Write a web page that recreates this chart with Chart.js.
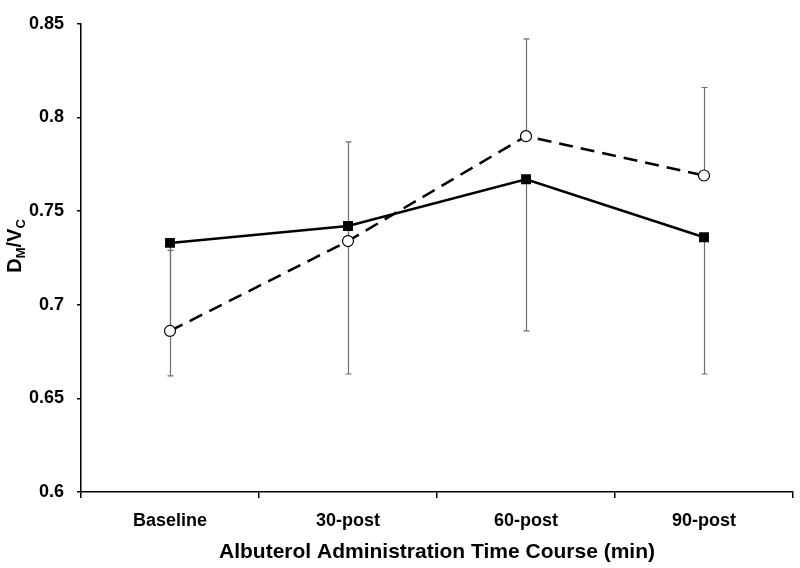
<!DOCTYPE html>
<html>
<head>
<meta charset="utf-8">
<script src="https://cdn.jsdelivr.net/npm/chart.js@4"></script>
<style>
  html, body { margin: 0; padding: 0; background: #fff; }
  #wrap { width: 800px; height: 568px; position: relative; }
</style>
</head>
<body>
<div id="wrap"><canvas id="c" width="800" height="568"></canvas></div>
<script>
const categories = ['Baseline', '30-post', '60-post', '90-post'];
const squareValues = [0.733, 0.742, 0.767, 0.736];
const circleValues = [0.686, 0.734, 0.790, 0.769];
const squareLowerErr = [0.662, 0.663, 0.686, 0.663];
const circleUpperErr = [0.729, 0.787, 0.842, 0.816];
const yTicks = [0.6, 0.65, 0.7, 0.75, 0.8, 0.85];
const xTitle = 'Albuterol Administration Time Course (min)';

const FONT = '"Liberation Sans", Arial, sans-serif';

const errorBars = {
  id: 'errorBars',
  beforeDatasetsDraw(chart) {
    const ctx = chart.ctx;
    const x = chart.scales.x, y = chart.scales.y;
    ctx.save();
    ctx.strokeStyle = '#6e6e6e';
    ctx.lineWidth = 1.2;
    const cap = 3;
    const draw = (vals, ends) => {
      vals.forEach((v, i) => {
        const px = Math.round(x.getPixelForValue(i)) + 0.5;
        const y0 = y.getPixelForValue(v);
        const y1 = y.getPixelForValue(ends[i]);
        ctx.beginPath();
        ctx.moveTo(px, y0);
        ctx.lineTo(px, y1);
        ctx.moveTo(px - cap, y1);
        ctx.lineTo(px + cap, y1);
        ctx.stroke();
      });
    };
    draw(squareValues, squareLowerErr);
    draw(circleValues, circleUpperErr);
    ctx.restore();
  }
};

const titles = {
  id: 'titles',
  afterDraw(chart) {
    const ctx = chart.ctx;
    const ca = chart.chartArea;
    ctx.save();
    ctx.fillStyle = '#000';
    // X title
    ctx.font = 'bold 21px ' + FONT;
    ctx.textAlign = 'center';
    ctx.textBaseline = 'alphabetic';
    ctx.fillText(xTitle, (ca.left + ca.right) / 2, 558);
    // Y title with subscripts
    const big = 'bold 20px ' + FONT, small = 'bold 13px ' + FONT;
    const parts = [['D', big, 0], ['M', small, 4], ['/V', big, 0], ['C', small, 4]];
    let total = 0;
    parts.forEach(p => { ctx.font = p[1]; total += ctx.measureText(p[0]).width; });
    ctx.translate(21, 246);
    ctx.rotate(-Math.PI / 2);
    ctx.textAlign = 'left';
    let cx = -total / 2;
    parts.forEach(p => {
      ctx.font = p[1];
      ctx.fillText(p[0], cx, p[2]);
      cx += ctx.measureText(p[0]).width;
    });
    ctx.restore();
  }
};

new Chart(document.getElementById('c'), {
  type: 'line',
  data: {
    labels: categories,
    datasets: [
      {
        label: 'Series A',
        data: squareValues,
        borderColor: '#000',
        backgroundColor: '#000',
        borderWidth: 2.5,
        pointStyle: 'rect',
        pointRadius: 7,
        pointBorderWidth: 0,
        pointBackgroundColor: '#000',
        tension: 0,
        fill: false
      },
      {
        label: 'Series B',
        data: circleValues,
        borderColor: '#000',
        borderWidth: 2.5,
        borderDash: [14, 8],
        pointStyle: 'circle',
        pointRadius: 5.5,
        pointBorderWidth: 1.2,
        pointBorderColor: '#000',
        pointBackgroundColor: '#fff',
        tension: 0,
        fill: false
      }
    ]
  },
  options: {
    responsive: false,
    animation: false,
    devicePixelRatio: 1,
    layout: { padding: { left: 0, top: 12, right: 7, bottom: 0 } },
    plugins: {
      legend: { display: false },
      tooltip: { enabled: false },
      title: { display: false }
    },
    scales: {
      x: {
        type: 'category',
        offset: true,
        grid: {
          offset: true,
          drawOnChartArea: false,
          drawTicks: true,
          tickLength: 6,
          color: '#000',
          lineWidth: 1.5
        },
        border: { color: '#000', width: 1.5 },
        ticks: {
          color: '#000',
          font: { family: FONT, size: 18, weight: 'bold' },
          padding: 12,
          maxRotation: 0
        },
        afterFit(s) { s.height = 76; }
      },
      y: {
        min: 0.6,
        max: 0.85,
        grid: {
          drawOnChartArea: false,
          drawTicks: true,
          tickLength: 4,
          color: '#000',
          lineWidth: 1.5
        },
        border: { color: '#000', width: 1.5 },
        afterBuildTicks(s) { s.ticks = yTicks.map(v => ({ value: v })); },
        ticks: {
          color: '#000',
          font: { family: FONT, size: 18, weight: 'bold' },
          padding: 13,
          callback: v => String(Math.round(v * 100) / 100)
        },
        afterFit(s) { s.width = 81; }
      }
    }
  },
  plugins: [errorBars, titles]
});
</script>
</body>
</html>
